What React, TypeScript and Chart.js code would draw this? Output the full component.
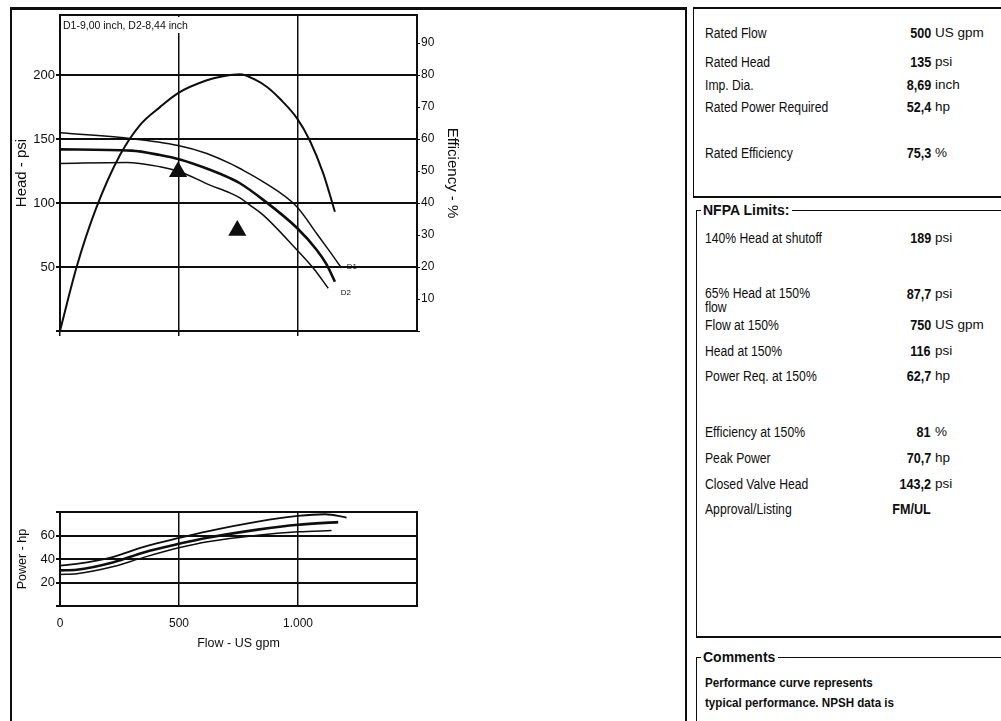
import React, { useEffect, useRef } from "react";
import { Chart, registerables } from "chart.js";

Chart.register(...registerables);

const FONT = "'Liberation Sans', Arial, Helvetica, sans-serif";
const INK = "#0e0e0e";

// ---------- Head / efficiency chart data (flow in US gpm) ----------
const headHeader = "D1-9,00 inch, D2-8,44 inch";

const d1Flow = [0, 294, 496, 617, 714, 756, 854, 996, 1078, 1134, 1183];
const d1Head = [155, 150.5, 145, 138.8, 131, 127, 116.6, 97, 76.3, 62, 49.2];

const ratedFlow = [0, 300, 420, 504, 630, 714, 756, 854, 996, 1078, 1120, 1155];
const ratedHead = [142, 141, 137.5, 134, 126, 119.5, 115.5, 102.5, 80.5, 63.5, 52, 38.5];

const d2Flow = [0, 280, 420, 504, 630, 714, 756, 798, 854, 996, 1064, 1127];
const d2Head = [131, 131.8, 128.4, 124.5, 114, 108, 104, 98.4, 90.6, 63.3, 49.2, 33.4];

const effFlow = [0, 71, 150, 252, 336, 420, 496, 617, 680, 756, 820, 870, 924, 996, 1050, 1106, 1155];
const effValues = [0, 20.3, 38, 55, 64.4, 70, 74.4, 78.4, 79.6, 80.3, 78.6, 76.3, 72.6, 66.5, 59.5, 49.3, 37.3];

const markFlow = [496, 745];
const markHead = [124.5, 78.5];

const curveLabels = ["D1", "D2"];
const curveLabelFlow = [1205, 1180];
const curveLabelHead = [50, 30];

// ---------- Power chart data ----------
const powerFlowD1 = [0, 70, 225, 352, 504, 620, 831, 1000, 1113, 1204];
const powerD1 = [34.4, 35.8, 41.9, 50.3, 58.1, 63.6, 71.9, 76.7, 78.1, 75.3];

const powerFlowRated = [0, 70, 225, 352, 504, 620, 831, 1000, 1169];
const powerRated = [30.3, 30.8, 37.2, 45.6, 53.1, 58.1, 65, 69.2, 71.4];

const powerFlowD2 = [0, 70, 225, 352, 504, 620, 831, 1000, 1141];
const powerD2 = [26.9, 27.5, 33.6, 41.4, 49.7, 54.7, 60.3, 63.1, 64.2];

const flowTickLabels = ["0", "500", "1.000", ""];

// ---------- Side panel text ----------
const ratedLabels = ["Rated Flow", "Rated Head", "Imp. Dia.", "Rated Power Required", "Rated Efficiency"];
const ratedValues = ["500", "135", "8,69", "52,4", "75,3"];
const ratedUnits = ["US gpm", "psi", "inch", "hp", "%"];

const nfpaLabels = [
  "140% Head at shutoff",
  "65% Head at 150% flow",
  "Flow at 150%",
  "Head at 150%",
  "Power Req. at 150%",
  "Efficiency at 150%",
  "Peak Power",
  "Closed Valve Head",
  "Approval/Listing",
];
const nfpaValues = ["189", "87,7", "750", "116", "62,7", "81", "70,7", "143,2", "FM/UL"];
const nfpaUnits = ["psi", "psi", "US gpm", "psi", "hp", "%", "hp", "psi", ""];

const commentLines = ["Performance curve represents", "typical performance. NPSH data is"];

// layout rows (page px)
const ratedRowY = [33, 62, 85, 107, 153];
const nfpaRowY = [238, 294, 325, 351, 376, 432, 458, 484, 509];

type Pt = { x: number; y: number };
const zip = (xs: number[], ys: number[]): Pt[] => xs.map((x, i) => ({ x, y: ys[i] }));

function lineDs(label: string, xs: number[], ys: number[], width: number, axis = "y") {
  return {
    label,
    data: zip(xs, ys),
    showLine: true,
    borderColor: INK,
    backgroundColor: INK,
    borderWidth: width,
    pointRadius: 0,
    pointHoverRadius: 0,
    fill: false,
    cubicInterpolationMode: "monotone" as const,
    yAxisID: axis,
  };
}

const tickFont = { family: FONT, size: 13 };
const tickFontSmall = { family: FONT, size: 12 };

function framePlugin(id: string, header?: string) {
  return {
    id,
    beforeDatasetsDraw(chart: any) {
      const { ctx, chartArea: a } = chart;
      ctx.save();
      ctx.strokeStyle = INK;
      ctx.lineWidth = 2;
      ctx.strokeRect(a.left, a.top, a.right - a.left, a.bottom - a.top);
      if (header) {
        ctx.font = `10.5px ${FONT}`;
        const w = ctx.measureText(header).width;
        ctx.fillStyle = "#fff";
        ctx.fillRect(a.left + 2, a.top + 2, w + 6, 16);
        ctx.fillStyle = INK;
        ctx.textBaseline = "middle";
        ctx.textAlign = "left";
        ctx.fillText(header, a.left + 3, a.top + 11);
      }
      ctx.restore();
    },
  };
}

const curveLabelPlugin = {
  id: "curveLabels",
  afterDatasetsDraw(chart: any) {
    const { ctx, scales } = chart;
    ctx.save();
    ctx.fillStyle = INK;
    ctx.font = `8px ${FONT}`;
    ctx.textBaseline = "middle";
    ctx.textAlign = "left";
    curveLabels.forEach((t, i) => {
      ctx.fillText(t, scales.x.getPixelForValue(curveLabelFlow[i]), scales.y.getPixelForValue(curveLabelHead[i]));
    });
    ctx.restore();
  },
};

export default function App() {
  const headRef = useRef<HTMLCanvasElement>(null);
  const powerRef = useRef<HTMLCanvasElement>(null);

  useEffect(() => {
    const head = new Chart(headRef.current as HTMLCanvasElement, {
      type: "scatter",
      data: {
        datasets: [
          lineDs("Efficiency", effFlow, effValues, 2, "y2"),
          lineDs("D1", d1Flow, d1Head, 1.5),
          lineDs("Rated", ratedFlow, ratedHead, 2.6),
          lineDs("D2", d2Flow, d2Head, 1.5),
          {
            label: "Points",
            data: zip(markFlow, markHead),
            showLine: false,
            pointStyle: "triangle",
            pointRadius: 10.5,
            pointHoverRadius: 10.5,
            backgroundColor: INK,
            borderColor: INK,
            borderWidth: 0,
            yAxisID: "y",
          } as any,
        ],
      },
      options: {
        animation: false,
        responsive: false,
        devicePixelRatio: 1,
        events: [],
        layout: { padding: { top: 15, left: 0, right: 0, bottom: 0 } },
        plugins: { legend: { display: false }, tooltip: { enabled: false } },
        scales: {
          x: {
            type: "linear",
            position: "bottom",
            min: 0,
            max: 1500,
            ticks: { display: false, stepSize: 500 },
            grid: {
              color: INK,
              lineWidth: 1.5,
              drawTicks: true,
              tickLength: 5,
              tickColor: (c: any) => (c.tick && c.tick.value === 1500 ? "rgba(0,0,0,0)" : INK),
            },
            border: { display: false },
            afterFit: (s: any) => {
              s.height = 14;
            },
          },
          y: {
            position: "left",
            min: 0,
            max: 247,
            ticks: {
              stepSize: 50,
              includeBounds: false,
              font: tickFont,
              color: INK,
              padding: 1,
              callback: (v: any) => (v === 0 ? "" : String(v)),
            },
            grid: { color: INK, lineWidth: 2, tickLength: 4 },
            border: { display: false },
            title: {
              display: true,
              text: "Head - psi",
              color: INK,
              font: { family: FONT, size: 15 },
              padding: { top: 13, bottom: 0 },
            },
            afterFit: (s: any) => {
              s.width = 60;
            },
          },
          y2: {
            position: "right",
            min: 0,
            max: 98.8,
            ticks: {
              stepSize: 10,
              includeBounds: false,
              font: tickFontSmall,
              color: INK,
              padding: 1,
              callback: (v: any) => (v === 0 ? "" : String(v)),
            },
            grid: { drawOnChartArea: false, color: INK, lineWidth: 1, tickLength: 3 },
            border: { display: false },
            title: {
              display: true,
              text: "Efficiency - %",
              color: INK,
              font: { family: FONT, size: 15 },
              padding: { top: 9, bottom: 0 },
            },
            afterFit: (s: any) => {
              s.width = 53;
            },
          },
        },
      } as any,
      plugins: [framePlugin("frameHead", headHeader), curveLabelPlugin],
    });

    const power = new Chart(powerRef.current as HTMLCanvasElement, {
      type: "scatter",
      data: {
        datasets: [
          lineDs("D1", powerFlowD1, powerD1, 1.8),
          lineDs("Rated", powerFlowRated, powerRated, 2.6),
          lineDs("D2", powerFlowD2, powerD2, 1.5),
        ],
      },
      options: {
        animation: false,
        responsive: false,
        devicePixelRatio: 1,
        events: [],
        layout: { padding: { top: 22, left: 0, right: 53, bottom: 0 } },
        plugins: { legend: { display: false }, tooltip: { enabled: false } },
        scales: {
          x: {
            type: "linear",
            position: "bottom",
            min: 0,
            max: 1500,
            ticks: {
              stepSize: 500,
              font: tickFontSmall,
              color: INK,
              padding: 10,
              maxRotation: 0,
              callback: (v: any) => flowTickLabels[Math.round(Number(v) / 500)] ?? "",
            },
            grid: { color: INK, lineWidth: 1.5, drawTicks: false },
            border: { display: false },
            title: {
              display: true,
              text: "Flow - US gpm",
              color: INK,
              font: { family: FONT, size: 12.5 },
              padding: { top: 0, bottom: 9 },
            },
            afterFit: (s: any) => {
              s.height = 54;
            },
          },
          y: {
            position: "left",
            min: 0,
            max: 80,
            ticks: {
              stepSize: 20,
              font: tickFont,
              color: INK,
              padding: 1,
              callback: (v: any) => (v === 0 || v === 80 ? "" : String(v)),
            },
            grid: { color: INK, lineWidth: 2, tickLength: 4 },
            border: { display: false },
            title: {
              display: true,
              text: "Power - hp",
              color: INK,
              font: { family: FONT, size: 12.5 },
              padding: { top: 15, bottom: 0 },
            },
            afterFit: (s: any) => {
              s.width = 60;
            },
          },
        },
      } as any,
      plugins: [framePlugin("framePower")],
    });

    return () => {
      head.destroy();
      power.destroy();
    };
  }, []);

  const txt: React.CSSProperties = {
    position: "absolute",
    fontSize: 13,
    lineHeight: "16px",
    whiteSpace: "nowrap",
    color: INK,
  };

  const row = (label: string, value: string, unit: string, y: number, key: string, wrap = false) => (
    <React.Fragment key={key}>
      <div
        style={{
          ...txt,
          left: 705,
          top: y - 8,
          fontSize: 14,
          transform: "scaleX(0.87)",
          transformOrigin: "left center",
          whiteSpace: wrap ? "normal" : "nowrap",
          width: wrap ? 140 : undefined,
          lineHeight: wrap ? "14px" : "16px",
        }}
      >
        {label}
      </div>
      <div
        style={{
          ...txt,
          right: 70,
          top: y - 8,
          fontSize: 14,
          fontWeight: "bold",
          textAlign: "right",
          transform: "scaleX(0.9)",
          transformOrigin: "right center",
        }}
      >
        {value}
      </div>
      {unit ? <div style={{ ...txt, left: 935, top: y - 8, fontSize: 13.5 }}>{unit}</div> : null}
    </React.Fragment>
  );

  return (
    <div
      style={{
        position: "fixed",
        left: 0,
        top: 0,
        width: 1001,
        height: 721,
        overflow: "hidden",
        background: "#fff",
        fontFamily: FONT,
        color: INK,
      }}
    >
      {/* left frame */}
      <div
        style={{
          position: "absolute",
          left: 10,
          top: 7,
          width: 677,
          height: 740,
          boxSizing: "border-box",
          borderTop: `3px solid ${INK}`,
          borderLeft: `2px solid ${INK}`,
          borderRight: `2px solid ${INK}`,
        }}
      />
      <canvas
        ref={headRef}
        width={470}
        height={345}
        style={{ position: "absolute", left: 0, top: 0, width: 470, height: 345 }}
      />
      <canvas
        ref={powerRef}
        width={470}
        height={170}
        style={{ position: "absolute", left: 0, top: 490, width: 470, height: 170 }}
      />

      {/* rated box */}
      <div
        style={{
          position: "absolute",
          left: 693,
          top: 7,
          width: 330,
          height: 191,
          boxSizing: "border-box",
          borderTop: `2px solid ${INK}`,
          borderLeft: `1px solid ${INK}`,
          borderBottom: `2px solid ${INK}`,
        }}
      />
      {ratedLabels.map((l, i) => row(l, ratedValues[i], ratedUnits[i], ratedRowY[i], "r" + i))}

      {/* NFPA box */}
      <div
        style={{
          position: "absolute",
          left: 696,
          top: 210,
          width: 330,
          height: 428,
          boxSizing: "border-box",
          borderTop: `1px solid ${INK}`,
          borderLeft: `1px solid ${INK}`,
          borderBottom: `2px solid ${INK}`,
        }}
      />
      <div
        style={{
          ...txt,
          left: 701,
          top: 202,
          fontWeight: "bold",
          fontSize: 14,
          lineHeight: "16px",
          background: "#fff",
          padding: "0 3px 0 2px",
        }}
      >
        NFPA Limits:
      </div>
      {nfpaLabels.map((l, i) => row(l, nfpaValues[i], nfpaUnits[i], nfpaRowY[i], "n" + i, i === 1))}

      {/* Comments box */}
      <div
        style={{
          position: "absolute",
          left: 696,
          top: 657,
          width: 330,
          height: 100,
          boxSizing: "border-box",
          borderTop: `1px solid ${INK}`,
          borderLeft: `1px solid ${INK}`,
        }}
      />
      <div
        style={{
          ...txt,
          left: 701,
          top: 649,
          fontWeight: "bold",
          fontSize: 14,
          lineHeight: "16px",
          background: "#fff",
          padding: "0 3px 0 2px",
        }}
      >
        Comments
      </div>
      {commentLines.map((c, i) => (
        <div
          key={"c" + i}
          style={{
            ...txt,
            left: 705,
            top: 675 + i * 20,
            fontWeight: "bold",
            fontSize: 13.5,
            transform: "scaleX(0.86)",
            transformOrigin: "left center",
          }}
        >
          {c}
        </div>
      ))}
    </div>
  );
}
